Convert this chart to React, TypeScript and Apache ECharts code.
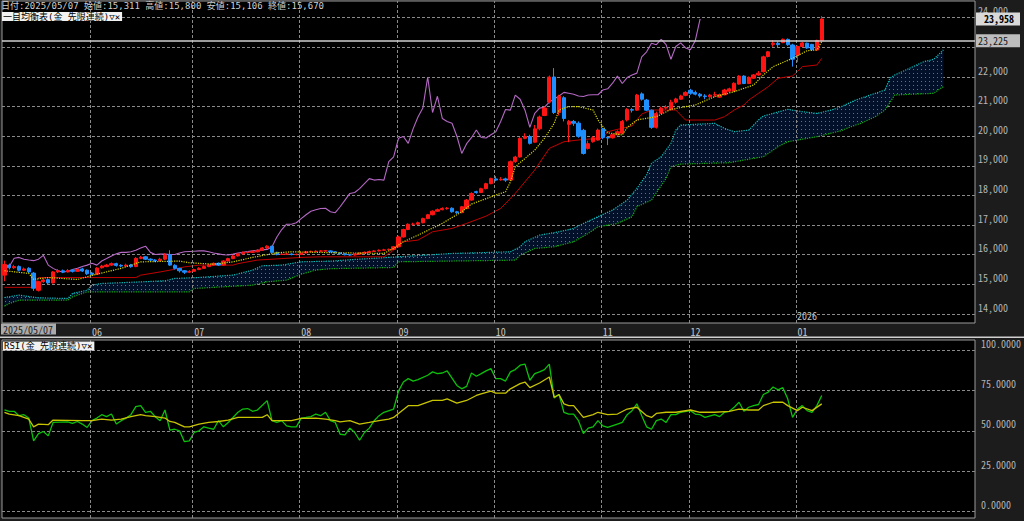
import React, { useEffect, useRef } from 'react';
import * as echarts from 'echarts';

// ---------- DATA ----------
const N_SLOTS = 200;
const START_DATE = '2025/05/07';
const monthStarts = [18, 39, 61, 81, 101, 123, 141, 163];
const monthLabels = ['06', '07', '08', '09', '10', '11', '12', '01'];
const yearMarkLabel = '2026';
const CHIKOU_SHIFT = 25;

const opens = [
  15311, 15650, 15560, 15600, 15480, 15540, 15380, 14800, 15090, 15160,
  15050, 15420, 15460, 15420, 15470, 15440, 15520, 15480, 15380, 15340,
  15560, 15600, 15650, 15700, 15640, 15620, 15650, 15600, 15880, 15930,
  15850, 15820, 15800, 15850, 16000, 15640, 15540, 15460, 15410, 15440,
  15500, 15540, 15600, 15650, 15710, 15650, 15790, 15870, 15960, 16030,
  16080, 16080, 16100, 16150, 16230, 16290, 16080, 16010, 16020, 16020,
  16010, 16010, 16060, 16100, 16110, 16120, 16130, 16130, 16100, 16060,
  16030, 16000, 15990, 16020, 16060, 16080, 16110, 16130, 16150, 16165,
  16180, 16270, 16600, 16850, 17030, 17030, 17080, 17220, 17350, 17470,
  17520, 17560, 17570, 17450, 17420, 17560, 17845, 18130, 18100, 18230,
  18400, 18560, 18530, 18560, 18520, 19140, 19300, 19930, 19990, 19800,
  20250, 20700, 21150, 22000, 20800, 21300, 20400, 20500, 20440, 20200,
  19590, 19820, 19870, 20250, 19960, 19950, 20050, 20100, 20550, 20900,
  20880, 21430, 21220, 20880, 20300, 20780, 20950, 20900, 21150, 21250,
  21380, 21550, 21480, 21420, 21360, 21330, 21390, 21320, 21400, 21520,
  21520, 21760, 22030, 21780, 21960, 22070, 22180, 22690, 23100, 23140,
  23160, 23270, 23080, 22740, 23030, 23140, 23100, 22910, 23225,
];
const closes = [
  15670, 15560, 15600, 15480, 15520, 15420, 14870, 15090, 15150, 15050,
  15420, 15460, 15420, 15470, 15440, 15500, 15450, 15360, 15330, 15550,
  15620, 15650, 15700, 15640, 15620, 15650, 15600, 15880, 15910, 15850,
  15820, 15800, 15850, 15980, 15650, 15540, 15460, 15410, 15440, 15500,
  15540, 15600, 15650, 15710, 15650, 15790, 15870, 15960, 16030, 16080,
  16080, 16100, 16150, 16230, 16290, 16080, 16010, 16020, 16020, 16010,
  16010, 16060, 16100, 16110, 16120, 16130, 16130, 16100, 16060, 16030,
  16000, 15990, 16020, 16060, 16080, 16110, 16130, 16150, 16165, 16180,
  16270, 16600, 16850, 17030, 17030, 17080, 17220, 17350, 17470, 17520,
  17560, 17570, 17450, 17420, 17620, 17845, 18070, 18100, 18230, 18400,
  18570, 18520, 18540, 18520, 19140, 19300, 19930, 19990, 19760, 20250,
  20650, 20950, 22000, 20800, 21350, 20600, 20500, 20440, 20000, 19420,
  19750, 19950, 20210, 19960, 19940, 20050, 20150, 20500, 20900, 20880,
  21390, 21250, 20880, 20300, 20770, 20950, 20980, 21150, 21260, 21360,
  21480, 21450, 21420, 21360, 21340, 21390, 21400, 21400, 21560, 21600,
  21790, 22030, 21780, 21980, 22070, 22130, 22680, 22850, 23140, 23090,
  23270, 23090, 22600, 23030, 23150, 22980, 22920, 23225, 23958,
];
const lows = [
  15106, 15500, 15520, 15440, 15450, 15380, 14780, 14760, 15050, 15000,
  15030, 15380, 15380, 15400, 15400, 15420, 15420, 15320, 15300, 15320,
  15530, 15580, 15620, 15600, 15580, 15590, 15560, 15580, 15850, 15820,
  15780, 15760, 15770, 15820, 15620, 15500, 15400, 15350, 15380, 15420,
  15480, 15520, 15580, 15630, 15620, 15640, 15770, 15850, 15940, 16010,
  16040, 16060, 16080, 16130, 16200, 16050, 15980, 15990, 15990, 15980,
  15980, 15990, 16040, 16080, 16090, 16100, 16100, 16080, 16040, 16010,
  15980, 15960, 15970, 16000, 16040, 16060, 16090, 16110, 16130, 16140,
  16160, 16250, 16580, 16830, 16990, 17000, 17060, 17200, 17330, 17450,
  17500, 17520, 17420, 17380, 17400, 17540, 17820, 18060, 18080, 18210,
  18380, 18480, 18500, 18460, 18500, 19100, 19280, 19900, 19720, 19780,
  20200, 20680, 21100, 20750, 20700, 20500, 19800, 20350, 19950, 19380,
  19550, 19780, 19850, 19900, 19700, 19920, 20020, 20080, 20500, 20800,
  20860, 21200, 20850, 20250, 20260, 20760, 20900, 20880, 21100, 21230,
  21350, 21400, 21380, 21300, 21250, 21300, 21330, 21300, 21380, 21480,
  21500, 21740, 21760, 21760, 21940, 22040, 22150, 22660, 23020, 23000,
  23140, 23050, 22350, 22500, 23000, 22950, 22880, 22880, 23200,
];
const highs = [
  15800, 15700, 15660, 15640, 15570, 15580, 15420, 15120, 15200, 15200,
  15450, 15520, 15500, 15520, 15510, 15540, 15560, 15500, 15420, 15580,
  15660, 15690, 15740, 15730, 15680, 15700, 15690, 15920, 15960, 15960,
  15880, 15850, 15900, 16050, 16150, 15680, 15560, 15480, 15480, 15530,
  15580, 15640, 15690, 15740, 15740, 15820, 15900, 15990, 16060, 16110,
  16120, 16140, 16190, 16260, 16320, 16300, 16100, 16060, 16060, 16050,
  16040, 16090, 16130, 16140, 16150, 16160, 16160, 16150, 16120, 16080,
  16050, 16030, 16050, 16080, 16110, 16140, 16160, 16180, 16200, 16210,
  16300, 16640, 16880, 17060, 17080, 17120, 17250, 17380, 17500, 17560,
  17600, 17610, 17600, 17480, 17650, 17880, 18110, 18160, 18260, 18430,
  18600, 18650, 18620, 18600, 19180, 19340, 19970, 20100, 20050, 20380,
  20700, 21000, 22050, 22300, 21400, 21350, 20550, 20550, 20500, 20250,
  19850, 20000, 20260, 20280, 20000, 20080, 20200, 20550, 20950, 20950,
  21430, 21480, 21260, 20900, 20830, 21000, 21050, 21230, 21300, 21400,
  21520, 21600, 21540, 21460, 21420, 21430, 21500, 21440, 21600, 21640,
  21820, 22060, 22060, 22020, 22100, 22200, 22720, 22880, 23240, 23200,
  23300, 23300, 23120, 23060, 23180, 23160, 23120, 23260, 24060,
];

// Ichimoku lines: [slot index, price]
const tenkan = [
  [0, 15460], [5, 15370], [6, 15170], [9, 15230], [15, 15165], [19, 15345], [24, 15540],
  [26, 15650], [28, 15760], [36, 15785], [38, 15730], [43, 15680], [47, 15760], [51, 15910],
  [56, 16065], [59, 16100], [67, 16070], [78, 16045], [80, 16210], [82, 16440], [85, 16660],
  [90, 17060], [94, 17450], [96, 17710], [101, 18015], [103, 18125], [104, 18460], [105, 18970],
  [109, 19530], [111, 19930], [113, 20435], [114, 20885], [116, 21000], [118, 21000],
  [121, 20885], [122, 20550], [124, 20120], [127, 20040], [128, 20290], [130, 20550],
  [134, 20660], [137, 20907], [142, 21054], [146, 21336], [150, 21504], [154, 21730],
  [156, 22067], [158, 22349], [162, 22630], [165, 22889], [167, 22912], [168, 23193],
];
const kijun = [
  [0, 14900], [6, 14900], [7, 15230], [27, 15230], [28, 15310], [32, 15420], [35, 15510],
  [37, 15590], [40, 15650], [47, 15650], [48, 15700], [52, 15820], [57, 15870], [61, 15910],
  [65, 15930], [78, 15930], [80, 16156], [82, 16437], [85, 16494], [88, 16775], [92, 16888],
  [95, 17057], [99, 17304], [102, 17563], [105, 18070], [109, 18858], [112, 19590],
  [115, 19815], [119, 19894], [123, 19928], [124, 20153], [129, 20350], [131, 20750],
  [133, 20885], [138, 20885], [140, 20547], [146, 20547], [148, 20660], [150, 20885],
  [152, 21054], [153, 21223], [155, 21448], [157, 21673], [159, 21955], [162, 22034],
  [163, 22180], [164, 22349], [167, 22405], [168, 22630],
];
const spanA = [
  [0, 14557], [3, 14636], [7, 14546], [13, 14523], [14, 14692], [17, 14805], [18, 14974],
  [20, 15030], [33, 15120], [35, 15199], [40, 15233], [47, 15312], [51, 15480], [53, 15627],
  [57, 15649], [61, 15762], [67, 15784], [72, 15841], [81, 15931], [92, 16043], [104, 16100],
  [106, 16269], [107, 16437], [110, 16662], [114, 16775], [117, 16888], [119, 17057],
  [122, 17282], [125, 17507], [128, 17845], [130, 18240], [132, 18700], [133, 19083],
  [135, 19309], [137, 19759], [138, 20209], [139, 20378], [146, 20435], [148, 20266],
  [150, 20153], [153, 20209], [155, 20547], [156, 20682], [161, 20907], [164, 20829],
  [167, 20772], [170, 20885], [172, 20998], [175, 21223], [178, 21392], [181, 21561],
  [182, 21955], [183, 22067], [186, 22293], [189, 22518], [191, 22597], [193, 22912],
];
const spanB = [
  [0, 14264], [1, 14354], [3, 14467], [13, 14467], [14, 14580], [17, 14749], [38, 14749],
  [39, 14861], [51, 14974], [54, 15086], [58, 15143], [61, 15345], [64, 15480], [67, 15530],
  [80, 15570], [81, 15762], [105, 15818], [106, 15987], [109, 16212], [113, 16269],
  [117, 16437], [120, 16719], [122, 16944], [126, 17057], [129, 17282], [130, 17620],
  [133, 17845], [136, 18577], [137, 18971], [139, 19061], [149, 19106], [152, 19196],
  [156, 19309], [159, 19646], [161, 19815], [167, 19984], [172, 20187], [174, 20322],
  [176, 20435], [179, 20660], [181, 20885], [183, 21392], [191, 21448], [193, 21673],
];

// RSI lines: [slot index, value]
const rsi = [
  [0, 63.0], [1, 62.0], [2, 62.1], [3, 59.4], [4, 60.0], [5, 57.9], [6, 43.8], [7, 48.3],
  [8, 49.6], [9, 46.9], [10, 55.2], [13, 55.6], [14, 54.6], [15, 55.8], [16, 54.2], [17, 52.1],
  [18, 56.3], [19, 57.9], [20, 60.0], [21, 58.8], [22, 60.4], [23, 54.2], [24, 56.3], [25, 57.9],
  [26, 60.0], [27, 65.0], [28, 65.6], [29, 61.5], [30, 62.1], [31, 58.8], [32, 56.3], [33, 62.9],
  [34, 50.4], [35, 51.0], [36, 50.0], [37, 43.3], [38, 43.8], [39, 49.0], [40, 50.0], [41, 52.5],
  [42, 51.7], [43, 51.0], [44, 56.3], [45, 52.5], [46, 55.2], [48, 61.5], [49, 63.5], [50, 63.8],
  [51, 62.1], [52, 62.9], [54, 68.7], [55, 56.3], [56, 55.2], [57, 56.3], [58, 53.1], [59, 52.5],
  [60, 52.5], [61, 57.9], [62, 58.3], [63, 58.8], [64, 60.4], [65, 59.4], [66, 61.5], [67, 56.3],
  [68, 55.2], [69, 47.9], [70, 47.5], [71, 51.7], [72, 49.0], [73, 44.2], [74, 49.0], [75, 51.7],
  [76, 56.3], [77, 59.4], [78, 61.5], [80, 63.5], [81, 74.6], [82, 80.2], [83, 82.3], [84, 80.8],
  [85, 81.7], [87, 84.4], [88, 86.5], [89, 85.4], [90, 85.8], [91, 87.1], [93, 78.1], [94, 76.0],
  [95, 77.5], [96, 85.8], [97, 83.8], [98, 85.4], [99, 87.1], [100, 88.5], [101, 82.3], [102, 82.3],
  [103, 80.8], [104, 86.5], [105, 87.9], [106, 90.6], [107, 91.3], [108, 81.3], [109, 85.4],
  [110, 86.5], [111, 87.9], [112, 91.3], [113, 70.4], [114, 72.5], [115, 61.5], [116, 60.4],
  [117, 60.4], [118, 56.3], [119, 48.3], [120, 51.7], [121, 52.5], [122, 56.3], [123, 53.1],
  [124, 52.1], [126, 54.2], [127, 55.2], [128, 60.0], [129, 62.5], [130, 66.7], [131, 59.4],
  [132, 52.5], [133, 51.0], [134, 56.3], [135, 57.3], [136, 55.2], [137, 60.0], [138, 60.0],
  [139, 61.5], [141, 62.5], [142, 60.4], [143, 60.0], [144, 58.3], [146, 60.0], [147, 58.8],
  [148, 61.5], [149, 62.1], [150, 64.6], [151, 67.7], [152, 62.1], [153, 64.6], [154, 65.6],
  [155, 66.3], [156, 72.5], [157, 74.0], [158, 77.1], [159, 75.4], [160, 76.7], [161, 69.8],
  [162, 58.3], [163, 63.5], [164, 65.6], [165, 62.5], [166, 61.5], [167, 65.6], [168, 71.9],
];
const rsiSignal = [
  [0, 61.5], [1, 60.4], [3, 59.4], [5, 57.3], [6, 52.5], [7, 54.2], [9, 53.8], [10, 56.7],
  [16, 56.3], [18, 56.3], [20, 57.3], [22, 56.7], [24, 57.3], [26, 58.8], [28, 60.0], [29, 59.4],
  [31, 58.8], [33, 57.9], [34, 55.8], [35, 55.2], [37, 52.5], [38, 52.5], [40, 54.2], [42, 55.2],
  [44, 55.8], [46, 56.7], [48, 58.3], [53, 58.3], [54, 60.0], [55, 56.3], [59, 56.3], [61, 57.7],
  [64, 57.9], [66, 57.3], [68, 56.3], [69, 55.6], [71, 56.3], [73, 54.2], [75, 55.2], [77, 56.3],
  [79, 57.3], [80, 58.3], [81, 60.8], [83, 65.6], [85, 65.6], [88, 68.8], [90, 68.8], [91, 69.8],
  [93, 67.1], [95, 68.8], [97, 71.9], [98, 72.9], [100, 74.6], [101, 73.3], [103, 73.3], [104, 76.0],
  [106, 79.2], [107, 80.2], [108, 76.7], [110, 79.6], [112, 83.3], [113, 70.8], [114, 72.5],
  [115, 66.7], [116, 65.6], [117, 65.6], [119, 58.3], [121, 60.0], [122, 61.5], [124, 60.0],
  [126, 60.4], [128, 63.5], [130, 64.6], [132, 59.4], [133, 58.3], [134, 60.8], [136, 61.5],
  [138, 61.5], [141, 62.9], [143, 61.5], [146, 61.5], [149, 62.1], [151, 63.5], [153, 62.9],
  [155, 62.9], [156, 65.6], [158, 67.7], [160, 67.7], [161, 65.6], [163, 62.5], [164, 64.6],
  [166, 62.5], [168, 66.7],
];

const priceTicks = [14000, 15000, 16000, 17000, 18000, 19000, 20000, 21000, 22000, 23000, 24000];
const rsiTicks = [0, 25, 50, 75, 100];
const PRICE_MIN = 13696;
const PRICE_MAX = 24565;
const RSI_MIN = -3.9;
const RSI_MAX = 106.2;
const lastPrice = 23958;
const prevPrice = 23225;

// ---------- STYLE ----------
const FONT = "'Noto Sans Mono CJK JP', 'Noto Sans CJK JP', 'DejaVu Sans Mono', monospace";
const HEAD_FONT = "'DejaVu Sans Mono', 'Noto Sans CJK JP', monospace";
const GRID_LINE = { color: '#8a8a8a', type: [3, 2] as number[], width: 1 };

const fmt = (v: number) => v.toLocaleString('en-US');

function makeDots(): string {
  const c = document.createElement('canvas');
  c.width = 4;
  c.height = 4;
  const g = c.getContext('2d');
  if (g) {
    g.fillStyle = '#031029';
    g.fillRect(0, 0, 4, 4);
    g.fillStyle = '#2a86ac';
    g.fillRect(1, 1, 1, 1);
  }
  return c.toDataURL();
}

export default function App() {
  const ref = useRef<HTMLDivElement>(null);

  useEffect(() => {
    document.body.style.margin = '0';
    document.body.style.background = '#1c1c1c';
    if (!ref.current) return;
    const chart = echarts.init(ref.current, undefined, { renderer: 'svg' });
    const dots = makeDots();
    const categories = Array.from({ length: N_SLOTS }, (_, i) => String(i));
    const candles = opens.map((o, i) => [o, closes[i], lows[i], highs[i]]);
    const chikou = closes.slice(CHIKOU_SHIFT).map((c, k) => [k, c]);
    const monthLines = monthStarts.map((i) => ({ xAxis: i - 0.3 }));

    const header =
      `日付:${START_DATE} 始値:${fmt(opens[0])} 高値:${fmt(highs[0])} 安値:${fmt(lows[0])} 終値:${fmt(closes[0])}`;

    const option: any = {
      animation: false,
      backgroundColor: '#1c1c1c',
      textStyle: { fontFamily: FONT },
      grid: [
        { left: 2, top: 1, width: 973, height: 322, show: true, backgroundColor: '#000', borderColor: '#9a9a9a', borderWidth: 1 },
        { left: 2, top: 340, width: 973, height: 178, show: true, backgroundColor: '#000', borderColor: '#9a9a9a', borderWidth: 1 },
      ],
      xAxis: [
        {
          type: 'category', gridIndex: 0, data: categories, boundaryGap: true,
          axisLine: { show: false }, axisTick: { show: false }, splitLine: { show: false },
          axisLabel: {
            show: true,
            interval: (index: number) => monthStarts.includes(index),
            formatter: (_v: string, index: number) => {
              const k = monthStarts.indexOf(index);
              return k >= 0 ? monthLabels[k] : '';
            },
            color: '#c4c4c4', fontSize: 10, fontFamily: FONT, align: 'left', margin: 3,
          },
        },
        { type: 'value', gridIndex: 0, min: -0.5, max: N_SLOTS - 0.5, show: false },
        { type: 'value', gridIndex: 1, min: -0.5, max: N_SLOTS - 0.5, show: false },
      ],
      yAxis: [
        {
          type: 'value', gridIndex: 0, position: 'right', min: PRICE_MIN, max: PRICE_MAX,
          axisLine: { show: false },
          axisTick: { show: false, customValues: priceTicks },
          axisLabel: {
            customValues: priceTicks, formatter: (v: number) => fmt(v),
            color: '#b4b4b4', fontSize: 10, fontFamily: FONT, margin: 3,
            align: 'left', verticalAlign: 'bottom', padding: [0, 0, 2, 0],
          },
          splitLine: { show: true, lineStyle: GRID_LINE },
        },
        {
          type: 'value', gridIndex: 1, position: 'right', min: RSI_MIN, max: RSI_MAX,
          axisLine: { show: false },
          axisTick: { show: false, customValues: rsiTicks },
          axisLabel: {
            customValues: rsiTicks, formatter: (v: number) => v.toFixed(4),
            color: '#b4b4b4', fontSize: 10, fontFamily: FONT, margin: 6,
            align: 'left', verticalAlign: 'bottom', padding: [0, 0, 2, 0],
          },
          splitLine: { show: true, lineStyle: GRID_LINE },
        },
      ],
      series: [
        {
          type: 'custom', name: 'cloud', xAxisIndex: 1, yAxisIndex: 0, z: 1, silent: true,
          data: [[0, spanA[0][1]]],
          renderItem: (_p: any, api: any) => {
            const pts = [
              ...spanA.map((p) => api.coord(p)),
              ...spanB.slice().reverse().map((p) => api.coord(p)),
            ];
            return {
              type: 'polygon',
              shape: { points: pts },
              style: { fill: { image: dots, repeat: 'repeat', imageWidth: 4, imageHeight: 4 } },
            };
          },
        },
        {
          type: 'line', name: 'spanA', xAxisIndex: 1, yAxisIndex: 0, data: spanA, z: 3,
          symbol: 'none', lineStyle: { color: '#10c0c0', width: 1.2, type: 'dotted' },
          markLine: {
            silent: true, symbol: ['none', 'none'], label: { show: false },
            lineStyle: { ...GRID_LINE }, data: monthLines,
          },
        },
        {
          type: 'line', name: 'spanB', xAxisIndex: 1, yAxisIndex: 0, data: spanB, z: 3,
          symbol: 'none', lineStyle: { color: '#14b014', width: 1.2, type: 'dotted' },
        },
        {
          type: 'line', name: 'kijun', xAxisIndex: 1, yAxisIndex: 0, data: kijun, z: 4,
          symbol: 'none', lineStyle: { color: '#c00000', width: 1 },
        },
        {
          type: 'line', name: 'chikou', xAxisIndex: 1, yAxisIndex: 0, data: chikou, z: 4,
          symbol: 'none', lineStyle: { color: '#b468c4', width: 1.1 },
        },
        {
          type: 'candlestick', name: 'price', xAxisIndex: 0, yAxisIndex: 0, data: candles, z: 5,
          barWidth: '78%',
          itemStyle: {
            color: '#ff1414', color0: '#1e8fff',
            borderColor: '#ff1414', borderColor0: '#1e8fff', borderWidth: 1,
          },
          markLine: {
            silent: true, symbol: ['none', 'none'], z: 10,
            data: [
              {
                yAxis: prevPrice,
                lineStyle: { color: '#cfcfcf', width: 1.5, type: 'solid' },
                label: {
                  show: true, position: 'end', distance: 1, formatter: fmt(prevPrice),
                  backgroundColor: '#bdbdbd', color: '#202020', fontSize: 10, fontFamily: FONT,
                  padding: [2, 12, 1, 2],
                },
              },
              {
                yAxis: lastPrice,
                lineStyle: { color: 'rgba(0,0,0,0)', width: 0 },
                label: {
                  show: true, position: 'end', distance: 1, formatter: fmt(lastPrice),
                  backgroundColor: '#d9d9d9', color: '#000', fontSize: 10, fontWeight: 'bold',
                  fontFamily: FONT, padding: [2, 6, 1, 8],
                },
              },
            ],
          },
        },
        {
          type: 'line', name: 'tenkan', xAxisIndex: 1, yAxisIndex: 0, data: tenkan, z: 6,
          symbol: 'none', lineStyle: { color: '#d8d800', width: 1.2, type: 'dotted' },
        },
        {
          type: 'line', name: 'rsi', xAxisIndex: 2, yAxisIndex: 1, data: rsi, z: 4,
          symbol: 'none', lineStyle: { color: '#0cc00c', width: 1.3 },
          markLine: {
            silent: true, symbol: ['none', 'none'], label: { show: false },
            lineStyle: { ...GRID_LINE }, data: monthLines,
          },
        },
        {
          type: 'line', name: 'rsiSignal', xAxisIndex: 2, yAxisIndex: 1, data: rsiSignal, z: 5,
          symbol: 'none', lineStyle: { color: '#c8c400', width: 1.3 },
        },
      ],
      graphic: [
        { type: 'rect', z: 50, shape: { x: 0, y: 336.5, width: 1024, height: 1.6 }, style: { fill: '#d0d0d0' } },
        {
          type: 'text', z: 50, x: 1, y: 323.5,
          style: {
            text: START_DATE, fill: '#1e1e1e', font: `10px ${FONT}`, lineHeight: 11,
            backgroundColor: '#ababab', padding: [0, 3, 0, 2],
          },
        },
        {
          type: 'text', z: 50, x: 797, y: 310.5,
          style: { text: yearMarkLabel, fill: '#c4c4c4', font: `10px ${FONT}`, lineHeight: 10 },
        },
        {
          type: 'text', z: 50, x: 1, y: 0.5,
          style: { text: header, fill: '#cfcfcf', font: `9px ${HEAD_FONT}`, lineHeight: 10, verticalAlign: 'top' },
        },
        {
          type: 'text', z: 50, x: 2, y: 12,
          style: {
            text: '一目均衡表(金 先限連続)▽✕', fill: '#000', font: `9px ${HEAD_FONT}`, lineHeight: 9,
            verticalAlign: 'top', backgroundColor: '#f2f2f2', padding: [0, 2, 0, 1],
          },
        },
        {
          type: 'text', z: 50, x: 3, y: 341.5,
          style: {
            text: 'RSI(金 先限連続)▽✕', fill: '#000', font: `9px ${HEAD_FONT}`, lineHeight: 9,
            verticalAlign: 'top', backgroundColor: '#f2f2f2', padding: [0, 2, 0, 1],
          },
        },
      ],
    };
    chart.setOption(option);
    return () => chart.dispose();
  }, []);

  return <div ref={ref} style={{ width: 1024, height: 521, background: '#1c1c1c' }} />;
}
